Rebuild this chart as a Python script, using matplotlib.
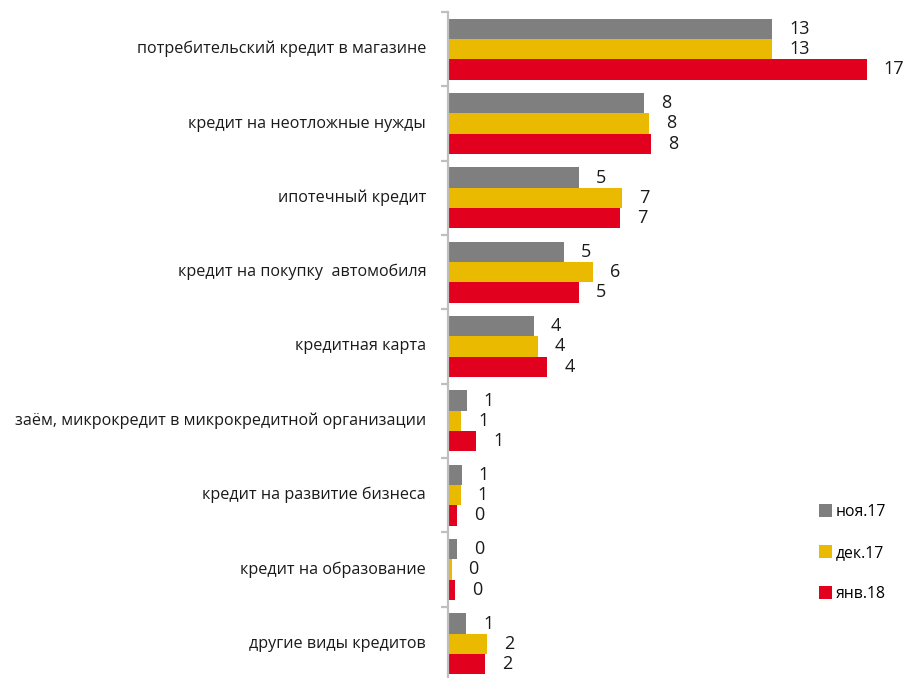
import matplotlib
matplotlib.use("Agg")
import matplotlib.pyplot as plt
import numpy as np
from matplotlib.patches import Patch

# данные
categories = [
    "потребительский кредит в магазине",
    "кредит на неотложные нужды",
    "ипотечный кредит",
    "кредит на покупку  автомобиля",
    "кредитная карта",
    "заём, микрокредит в микрокредитной организации",
    "кредит на развитие бизнеса",
    "кредит на образование",
    "другие виды кредитов",
]
series_names = ["ноя.17", "дек.17", "янв.18"]
nov17 = [13.4, 8.1, 5.4, 4.8, 3.55, 0.77, 0.57, 0.36, 0.76]
dec17 = [13.4, 8.3, 7.2, 6.0, 3.7, 0.55, 0.52, 0.15, 1.62]
jan18 = [17.3, 8.4, 7.1, 5.4, 4.1, 1.16, 0.36, 0.29, 1.52]
colors = ["#7F7F7F", "#E9BA00", "#E1001E"]

plt.rcParams["font.family"] = ["Open Sans", "DejaVu Sans"]

W, H = 904, 678
fig = plt.figure(figsize=(W / 100, H / 100), dpi=100)
ax_left, ax_top, ax_bottom = 448, 12, 681
ax = fig.add_axes([ax_left / W, (H - ax_bottom) / H, (W - ax_left) / W, (ax_bottom - ax_top) / H])

px_per_unit = 24.2
ax.set_xlim(0, (W - ax_left) / px_per_unit)
n = len(categories)
ax.set_ylim(n - 0.5, -0.5)

y = np.arange(n)
bh = 0.273
for k, vals in enumerate([nov17, dec17, jan18]):
    ypos = y + (k - 1) * bh
    ax.barh(ypos, vals, height=bh, color=colors[k], edgecolor="none")
    for yy, v in zip(ypos, vals):
        ax.text(v + 0.7, yy, f"{round(v):d}", va="center", ha="left", fontsize=13, color="#1a1a1a")

for i, c in enumerate(categories):
    ax.text(-0.9, i, c, ha="right", va="center", fontsize=11.6, color="#1a1a1a")

for s in ["top", "right", "bottom"]:
    ax.spines[s].set_visible(False)
ax.spines["left"].set_color("#BFBFBF")
ax.spines["left"].set_linewidth(1.6)
ax.set_xticks([])
ax.set_yticks(np.arange(n + 1) - 0.5)
ax.set_yticklabels([])
ax.tick_params(axis="y", length=5, width=1.6, color="#BFBFBF", direction="out")

handles = [Patch(facecolor=c, edgecolor="none") for c in colors]
fig.legend(handles, series_names, loc="center left", bbox_to_anchor=(811 / W, 1 - 553 / H),
           frameon=False, fontsize=11.3, handlelength=0.85, handleheight=0.85,
           handletextpad=0.2, labelspacing=1.6, borderpad=0)

fig.savefig("out.png", dpi=100)
